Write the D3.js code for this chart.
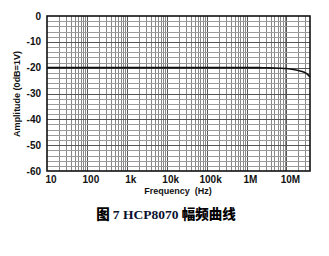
<!DOCTYPE html>
<html><head><meta charset="utf-8">
<script src="https://cdn.jsdelivr.net/npm/d3@7"></script>
<style>body{margin:0;background:#fff}svg{display:block}</style>
</head><body>
<script>
const freqs = [10, 100, 1e3, 1e4, 1e5, 1e6, 2e6, 3e6, 5e6, 7e6, 1e7, 1.5e7, 2e7, 2.5e7, 3e7, 3.4e7, 3.7e7, 3.9e7];
const amps  = [-20, -20, -20, -20, -20, -20, -20, -20.05, -20.1, -20.2, -20.35, -20.7, -21.1, -21.5, -22.0, -22.6, -23.2, -23.6];
const xTickVals = [10, 100, 1e3, 1e4, 1e5, 1e6, 1e7];
const xTickLabels = ["10", "100", "1k", "10k", "100k", "1M", "10M"];
const yTickVals = [0, -10, -20, -30, -40, -50, -60];

const W = 329, H = 256;
const L = 47, R = 310, T = 16, B = 171;
const svg = d3.select("body").append("svg").attr("width", W).attr("height", H);
const x = d3.scaleLog().domain([10, 3.9e7]).range([L, R]);
const y = d3.scaleLinear().domain([-60, 0]).range([B, T]);

// grid
const g = svg.append("g");
const minorX = [];
for (let d = 10; d < 4e7; d *= 10) for (let k = 1; k <= 9; k++) { const v = d * k; if (v > 10 && v < 3.9e7) minorX.push(v); }
g.selectAll(".vx").data(minorX).join("line")
  .attr("x1", d => Math.round(x(d)) + 0.5).attr("x2", d => Math.round(x(d)) + 0.5)
  .attr("y1", T).attr("y2", B)
  .attr("stroke", d => xTickVals.includes(d) ? "#555" : "#888").attr("stroke-width", 1);
const hy = d3.range(-58, 0, 2);
g.selectAll(".hy").data(hy).join("line")
  .attr("x1", L).attr("x2", R)
  .attr("y1", d => Math.round(y(d)) + 0.5).attr("y2", d => Math.round(y(d)) + 0.5)
  .attr("stroke", d => d % 10 === 0 ? "#555" : "#9a9a9a").attr("stroke-width", 1);

// frame
svg.append("rect").attr("x", L).attr("y", T).attr("width", R - L).attr("height", B - T)
  .attr("fill", "none").attr("stroke", "#111").attr("stroke-width", 1.6);

// curve
svg.append("path").datum(freqs.map((f, i) => [f, amps[i]]))
  .attr("d", d3.line().x(d => x(d[0])).y(d => y(d[1])).curve(d3.curveMonotoneX))
  .attr("fill", "none").attr("stroke", "#111").attr("stroke-width", 1.6);

// axes labels
const font = "'Liberation Sans', Arial, sans-serif";
svg.append("g").selectAll("text").data(yTickVals).join("text")
  .attr("x", L - 6).attr("y", d => y(d) + 3.5)
  .attr("text-anchor", "end").attr("font-family", font).attr("font-weight", "bold")
  .attr("font-size", 10).attr("fill", "#111").text(d => d);
svg.append("g").selectAll("text").data(xTickVals).join("text")
  .attr("x", d => x(d) + 4).attr("y", B + 12)
  .attr("text-anchor", "middle").attr("font-family", font).attr("font-weight", "bold")
  .attr("font-size", 10).attr("fill", "#111").text((d, i) => xTickLabels[i]);
svg.append("text").attr("x", 178).attr("y", 194).attr("text-anchor", "middle")
  .attr("font-family", font).attr("font-weight", "bold").attr("font-size", 9).attr("fill", "#111")
  .attr("xml:space", "preserve").text("Frequency  (Hz)");
svg.append("text").attr("transform", "translate(20,94) rotate(-90)").attr("text-anchor", "middle")
  .attr("font-family", font).attr("font-weight", "bold").attr("font-size", 9).attr("fill", "#111")
  .text("Amplitude (0dB=1V)");

// caption
const cap = svg.append("text").attr("x", 166).attr("y", 219).attr("text-anchor", "middle")
  .attr("font-size", 13.5).attr("font-weight", "bold").attr("fill", "#000");
cap.append("tspan").attr("font-family", "'Noto Sans CJK SC'").attr("font-weight", 900).text("图 ");
cap.append("tspan").attr("font-family", "'Liberation Serif', serif").attr("fill", "#0a1030").text("7 HCP8070 ");
cap.append("tspan").attr("font-family", "'Noto Sans CJK SC'").attr("font-weight", 900).text("幅频曲线");
</script>
</body></html>
